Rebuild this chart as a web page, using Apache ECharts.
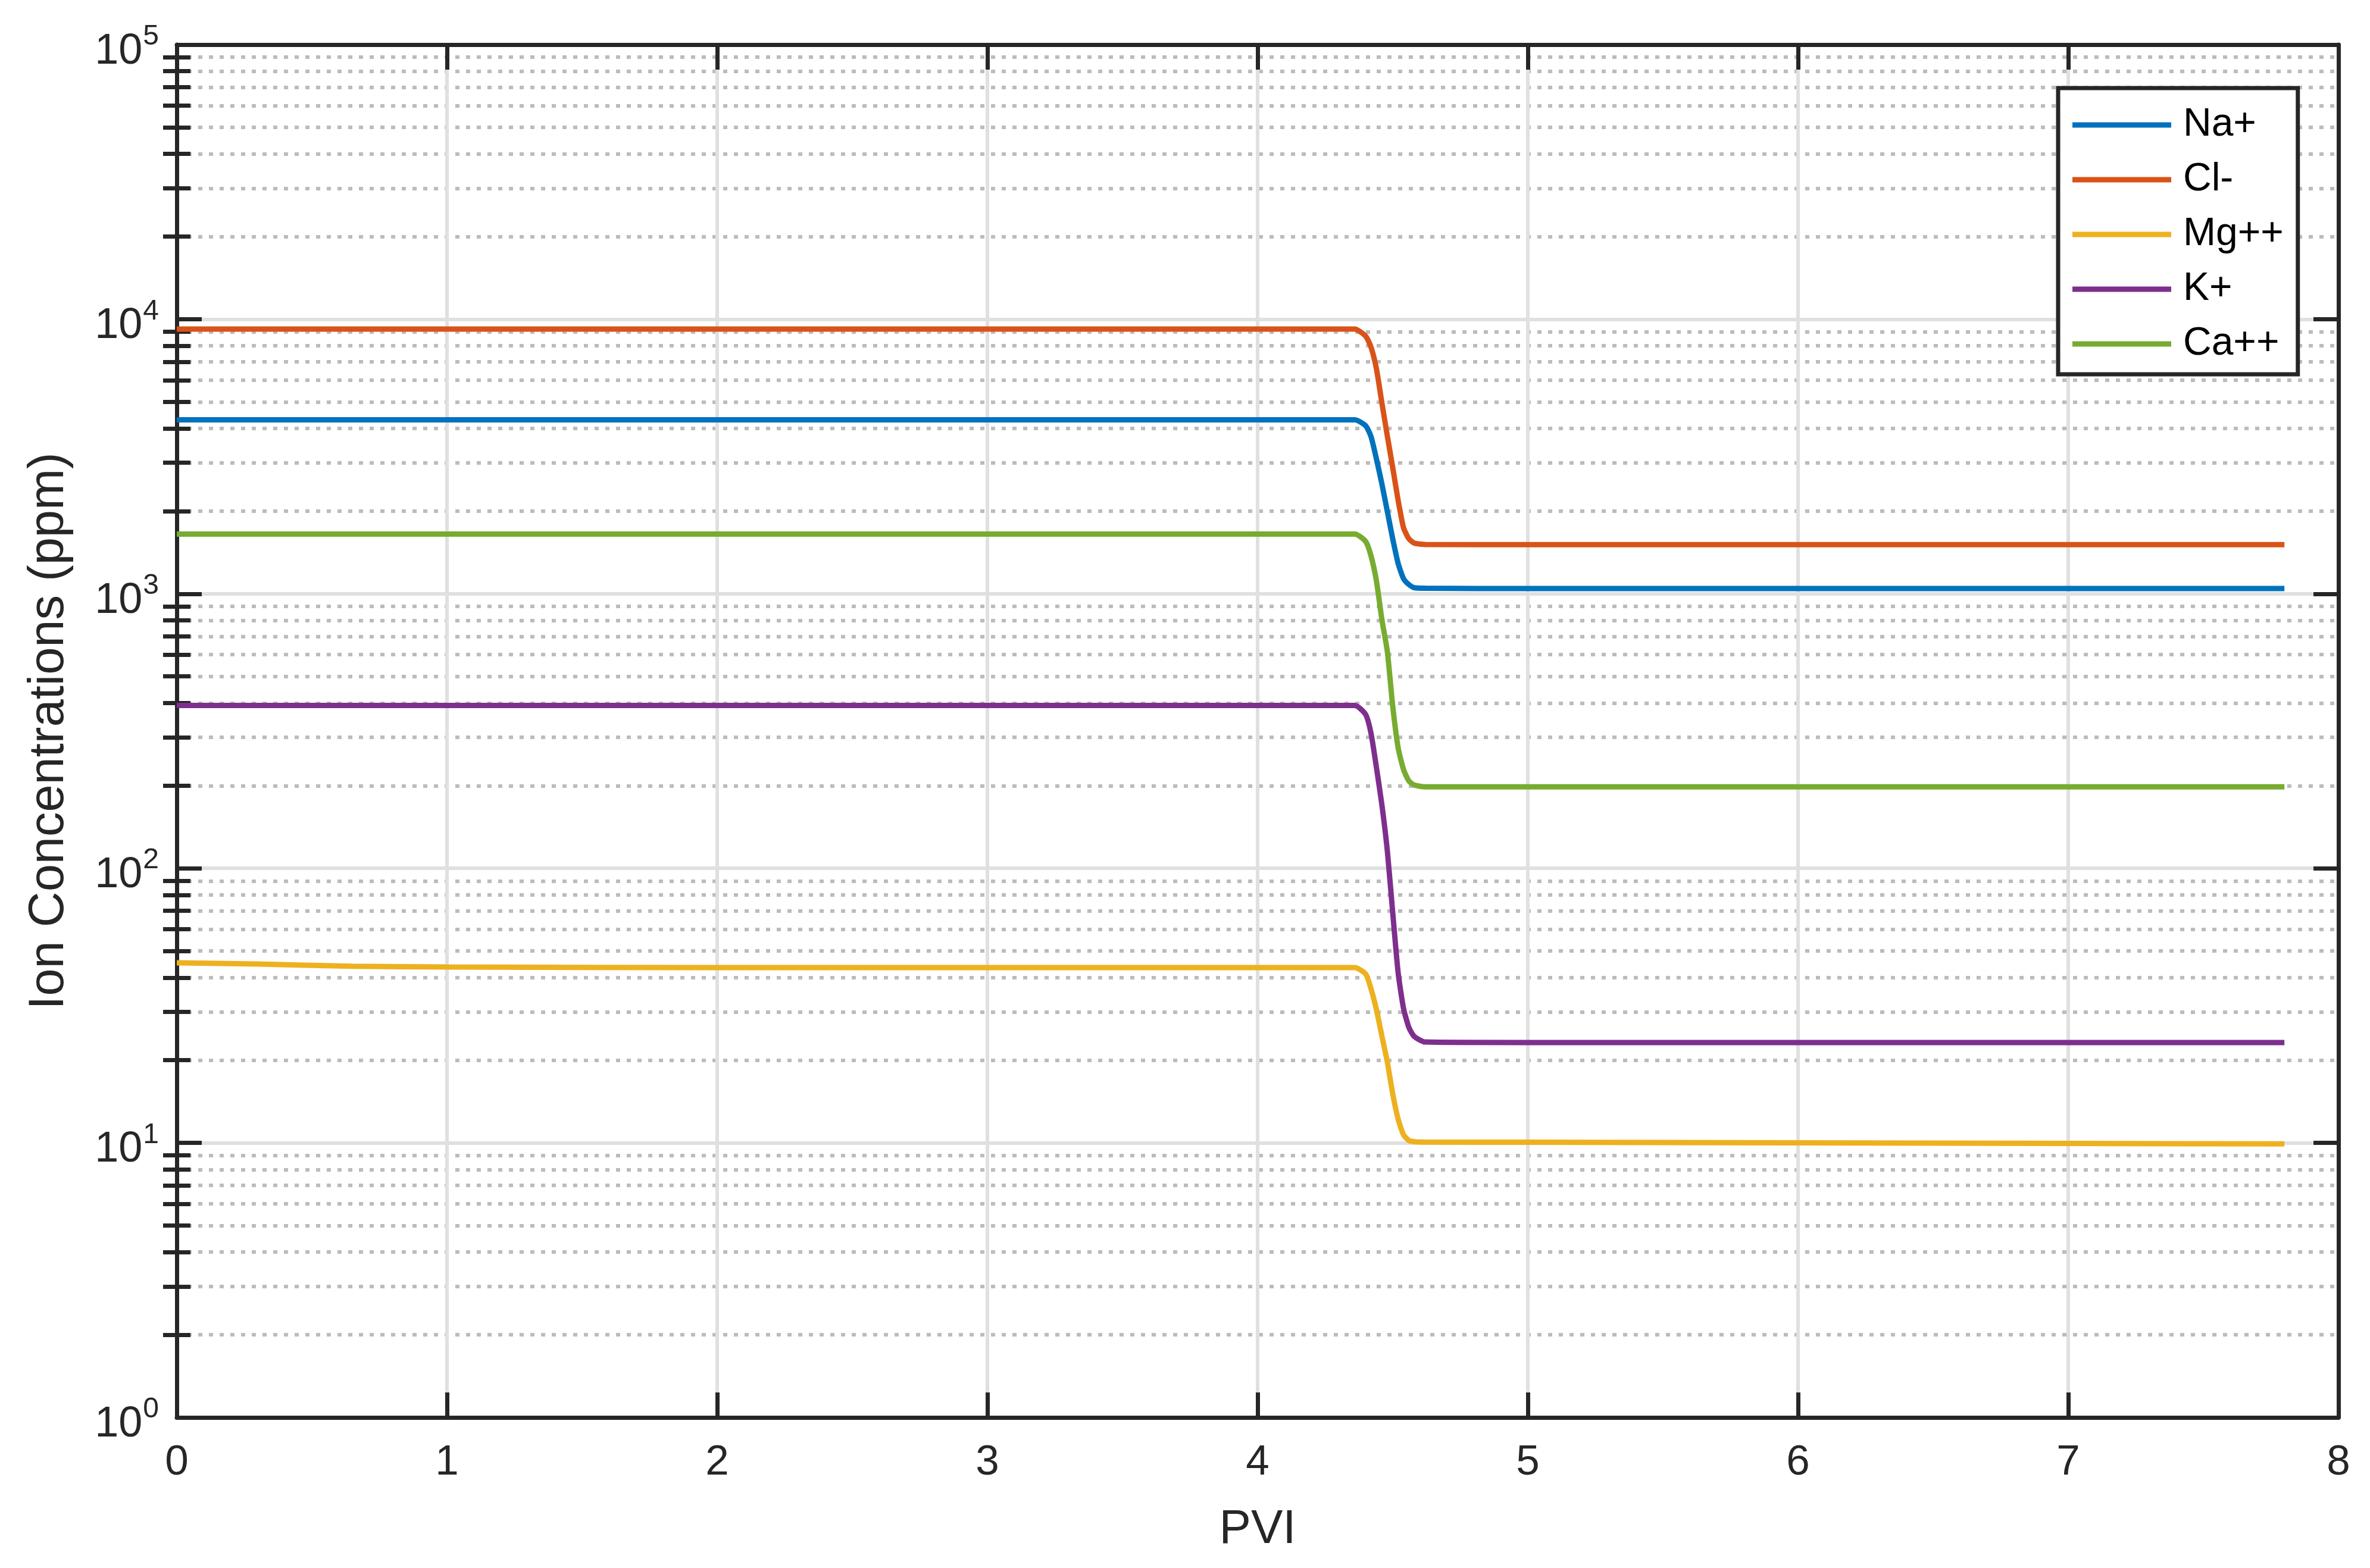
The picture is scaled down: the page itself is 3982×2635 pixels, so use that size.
<!DOCTYPE html>
<html><head><meta charset="utf-8">
<script src="https://cdn.jsdelivr.net/npm/echarts@6/dist/echarts.min.js"></script>
<style>html,body{margin:0;padding:0;background:#fff}#c{width:3982px;height:2635px}</style>
</head><body><div id="c"></div>
<script>
// ---- data ----
const PVI   = [0, 0.3, 0.65, 1, 2, 3, 4, 4.36, 4.40, 4.42, 4.44, 4.46, 4.48, 4.50, 4.52, 4.54, 4.56, 4.58, 4.62, 5, 6, 7, 7.8];
const NA    = [4300, 4300, 4300, 4300, 4300, 4300, 4300, 4300, 4090, 3730, 3090, 2510, 1995, 1585, 1290, 1135, 1080, 1052, 1047, 1045, 1045, 1045, 1045];
const CL    = [9200, 9200, 9200, 9200, 9200, 9200, 9200, 9200, 8670, 7890, 6580, 4950, 3760, 2880, 2190, 1740, 1585, 1528, 1512, 1510, 1510, 1510, 1510];
const MG    = [45.3, 44.8, 44.0, 43.7, 43.5, 43.5, 43.5, 43.5, 41.2, 36.3, 30.5, 24.5, 19.7, 15.1, 12.2, 10.7, 10.2, 10.1, 10.07, 10.05, 10.0, 9.95, 9.92];
const K     = [392, 392, 392, 392, 392, 392, 392, 392, 363, 309, 232, 170, 116, 69, 41.7, 30.9, 26.3, 24.4, 23.3, 23.2, 23.2, 23.2, 23.2];
const CA    = [1650, 1650, 1650, 1650, 1650, 1650, 1650, 1650, 1550, 1370, 1110, 804, 617, 390, 275, 229, 208, 201, 198, 198, 198, 198, 198];
const NAMES = ['Na+', 'Cl-', 'Mg++', 'K+', 'Ca++'];
const VALUES = [NA, CL, MG, K, CA];
const COLORS = ['#0072BD', '#D95319', '#EDB120', '#7E2F8E', '#77AC30'];
const Y_MAJOR = [1, 10, 100, 1000, 10000, 100000];
const Y_MINOR = [2, 3, 4, 5, 6, 7, 8, 9, 20, 30, 40, 50, 60, 70, 80, 90, 200, 300, 400, 500, 600, 700, 800, 900,
                 2000, 3000, 4000, 5000, 6000, 7000, 8000, 9000, 20000, 30000, 40000, 50000, 60000, 70000, 80000, 90000];
const X_TITLE = 'PVI';
const Y_TITLE = 'Ion Concentrations (ppm)';

// ---- styles ----
const DARK = '#262626';
const FONT = 'Liberation Sans, Arial, Helvetica, sans-serif';
const AX_W = 7;

const chart = echarts.init(document.getElementById('c'), null, {renderer: 'canvas'});

function yAxisBase(pos) {
  return {type: 'log', logBase: 10, min: 1, max: 100000, position: pos, gridIndex: 0};
}

const option = {
  animation: false,
  backgroundColor: '#fff',
  textStyle: {fontFamily: FONT},
  grid: {left: 297, right: 53, top: 75, bottom: 253, containLabel: false},
  legend: {
    orient: 'vertical', left: 3458, top: 148,
    padding: [29, 24, 18, 24], itemGap: 26, itemWidth: 166, itemHeight: 9, icon: 'rect',
    borderColor: DARK, borderWidth: 7, backgroundColor: '#fff',
    textStyle: {fontSize: 66, color: '#000', lineHeight: 65, fontFamily: FONT, padding: [0, 0, 0, 15]},
    data: NAMES
  },
  xAxis: [
    {
      type: 'value', min: 0, max: 8, interval: 1, position: 'bottom',
      axisLine: {show: true, onZero: false, lineStyle: {color: DARK, width: AX_W}},
      axisTick: {show: true, inside: true, length: 42, lineStyle: {color: DARK, width: AX_W}},
      axisLabel: {fontSize: 71, color: DARK, margin: 41, fontFamily: FONT},
      splitLine: {show: true, lineStyle: {color: '#e0e0e0', width: 6}},
      name: X_TITLE, nameLocation: 'middle', nameGap: 149,
      nameTextStyle: {fontSize: 80, color: DARK, fontFamily: FONT}
    },
    {
      type: 'value', min: 0, max: 8, interval: 1, position: 'top',
      axisLine: {show: true, onZero: false, lineStyle: {color: DARK, width: AX_W}},
      axisTick: {show: true, inside: true, length: 42, lineStyle: {color: DARK, width: AX_W}},
      axisLabel: {show: false}, splitLine: {show: false}
    }
  ],
  yAxis: [
    Object.assign(yAxisBase('left'), {
      axisLine: {show: true, onZero: false, lineStyle: {color: DARK, width: AX_W}},
      axisTick: {show: true, inside: true, length: 42, customValues: Y_MAJOR, lineStyle: {color: DARK, width: AX_W}},
      axisLabel: {
        customValues: Y_MAJOR, margin: 30, color: DARK, padding: [24, 0, 0, 0],
        formatter: function (v) { return '{b|10}{s|' + Math.round(Math.log10(v)) + '}'; },
        rich: {
          b: {fontSize: 72, lineHeight: 72, color: DARK, fontFamily: FONT},
          s: {fontSize: 48, lineHeight: 48, color: DARK, fontFamily: FONT, padding: [0, 0, 50, 1]}
        }
      },
      splitLine: {show: true, lineStyle: {color: '#e0e0e0', width: 6}},
      name: Y_TITLE, nameLocation: 'middle', nameGap: 172, nameRotate: 90,
      nameTextStyle: {fontSize: 83, color: DARK, fontFamily: FONT}
    }),
    Object.assign(yAxisBase('left'), {
      axisLine: {show: false},
      axisTick: {show: true, inside: true, length: 23, customValues: Y_MINOR, lineStyle: {color: DARK, width: AX_W}},
      axisLabel: {show: false},
      splitLine: {show: true, lineStyle: {color: '#bcbcbc', width: 6, type: [7, 11]}}
    }),
    Object.assign(yAxisBase('right'), {
      axisLine: {show: true, onZero: false, lineStyle: {color: DARK, width: AX_W}},
      axisTick: {show: true, inside: true, length: 42, customValues: Y_MAJOR, lineStyle: {color: DARK, width: AX_W}},
      axisLabel: {show: false}, splitLine: {show: false}
    }),
    Object.assign(yAxisBase('right'), {
      axisLine: {show: false},
      axisTick: {show: true, inside: true, length: 23, customValues: Y_MINOR, lineStyle: {color: DARK, width: AX_W}},
      axisLabel: {show: false}, splitLine: {show: false}
    })
  ],
  series: NAMES.map(function (name, i) {
    return {
      name: name, type: 'line', xAxisIndex: 0, yAxisIndex: 0,
      data: PVI.map(function (x, j) { return [x, VALUES[i][j]]; }),
      showSymbol: false, symbol: 'none', smooth: 0.2,
      lineStyle: {color: COLORS[i], width: 9},
      itemStyle: {color: COLORS[i]},
      z: 3
    };
  })
};
chart.setOption(option);
</script></body></html>
